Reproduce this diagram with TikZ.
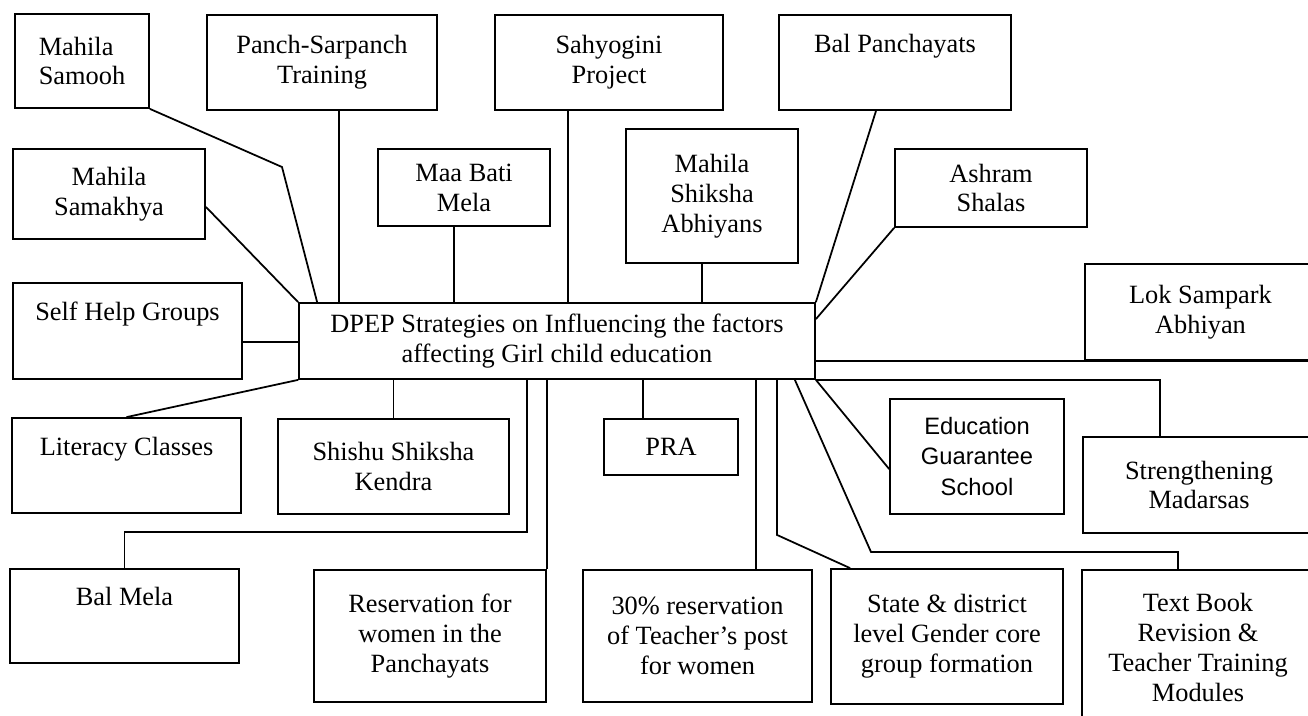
\documentclass[tikz,border=0pt]{standalone}
\usepackage{fontspec}
\setmainfont{Liberation Serif}
\newfontfamily\egsfont{Liberation Sans}
\usepackage{tikz}
\usetikzlibrary{calc}
\tikzset{
strategy/.style = { rectangle, draw = black, fill = white, line width = 1pt, inner sep = 0pt, align = center, font = \fontsize{15}{17}\selectfont },
dims/.style 2 args = { minimum width = #1*0.2mm, minimum height = #2*0.2mm },
link/.style = { draw = black, line width = 1pt },
}

\begin{document}
\begin{tikzpicture}[x = 0.2mm, y = -0.2mm]
    \useasboundingbox (0, 0) rectangle (1308, 715);
    \clip (0, 0) rectangle (1308, 715);
    \node[strategy, dims = {134}{94}, align = left] (samooh) at (82, 61) {Mahila\\Samooh};
    \node[strategy, dims = {230}{95}] (panch) at (322, 62.5) {Panch-Sarpanch\\Training};
    \node[strategy, dims = {228}{95}] (sahyogini) at (609, 62.5) {Sahyogini\\Project};
    \node[strategy, dims = {232}{95}] (balpanch) at (895, 62.5) {Bal Panchayats\\\strut};
    \node[strategy, dims = {192}{90}] (samakhya) at (109, 194) {Mahila\\Samakhya};
    \node[strategy, dims = {172}{77}] (maabati) at (464, 187.5) {Maa Bati\\Mela};
    \node[strategy, dims = {172}{134}] (shiksha) at (712, 196) {Mahila\\Shiksha\\Abhiyans};
    \node[strategy, dims = {192}{78}] (ashram) at (991, 188) {Ashram\\Shalas};
    \node[strategy, dims = {229}{96}] (selfhelp) at (127.5, 331) {Self Help Groups\\\strut};
    \node[strategy, dims = {516}{76}] (dpep) at (557, 341) {DPEP Strategies on Influencing the factors\\affecting Girl child education};
    \node[strategy, dims = {231}{96}] (loksampark) at (1200.5, 312) {Lok Sampark\\Abhiyan};
    \node[strategy, dims = {229}{95}] (literacy) at (126.5, 465.5) {Literacy Classes\\\strut};
    \node[strategy, dims = {231}{95}] (shishu) at (393.5, 466.5) {Shishu Shiksha\\Kendra};
    \node[strategy, dims = {134}{56}] (pra) at (671, 447) {PRA};
    \node[strategy, dims = {174}{115}, font = \egsfont\fontsize{13.5}{17.5}\selectfont] (egs) at (977, 456.5) {Education\\Guarantee\\School};
    \node[strategy, dims = {232}{96}] (madarsas) at (1199, 485) {Strengthening\\Madarsas};
    \node[strategy, dims = {229}{94}] (balmela) at (124.5, 616) {Bal Mela\\\strut};
    \node[strategy, dims = {232}{132}] (reservation) at (430, 636) {Reservation for\\women in the\\Panchayats};
    \node[strategy, dims = {229}{132}] (thirty) at (697.5, 636) {30\% reservation\\of Teacher's post\\for women};
    \node[strategy, dims = {232}{135}] (gendercore) at (947, 636.5) {State \& district\\level Gender core\\group formation};
    \node[strategy, dims = {232}{155}] (textbook) at (1198, 647.5) {Text Book\\Revision \&\\Teacher Training\\Modules};

    \draw[link] (samooh.south east) -- (282, 167) -- ($(dpep.north west) + (19, 0)$);
    \draw[link] ($(samakhya.south east) + (0, -33)$) -- (dpep.north west);
    \draw[link] ($(panch.south) + (17, 0)$) coordinate (p) -- (p |- dpep.north);
    \draw[link] ($(maabati.south) + (-10, 0)$) coordinate (m) -- (m |- dpep.north);
    \draw[link] ($(sahyogini.south) + (-41, 0)$) coordinate (s) -- (s |- dpep.north);
    \draw[link] ($(shiksha.south) + (-10, 0)$) coordinate (a) -- (a |- dpep.north);
    \draw[link] ($(balpanch.south) + (-19, 0)$) -- (dpep.north east);
    \draw[link] (ashram.south west) -- ($(dpep.north east) + (0, 17)$);
    \draw[link] ($(selfhelp.east) + (0, 11)$) coordinate (h) -- (h -| dpep.west);
    \draw[link] (literacy.north) -- (dpep.south west);
    \draw[link] (shishu.north) -- (shishu.north |- dpep.south);
    \draw[link] (balmela.north) -- ++(0, -36) -| ($(dpep.south west) + (229, 0)$);
    \draw[link] (reservation.north east) -- (reservation.north east |- dpep.south);
    \draw[link] ($(pra.north) + (-28, 0)$) coordinate (r) -- (r |- dpep.south);
    \draw[link] ($(thirty.north) + (58.5, 0)$) coordinate (t) -- (t |- dpep.south);
    \draw[link] ($(dpep.south east) + (-39, 0)$) -- ++(0, 155) -- ($(gendercore.north west) + (20, 0)$);
    \draw[link] ($(dpep.south east) + (-21, 0)$) -- (871, 552) -| ($(textbook.north) + (-20, 0)$);
    \draw[link] (dpep.south east) -- ($(egs.west) + (0, 12.5)$);
    \draw[link] (dpep.south east) -| ($(madarsas.north) + (-39, 0)$);
    \draw[link] (loksampark.south east) -- (loksampark.south east -| dpep.east);
\end{tikzpicture}
\end{document}
